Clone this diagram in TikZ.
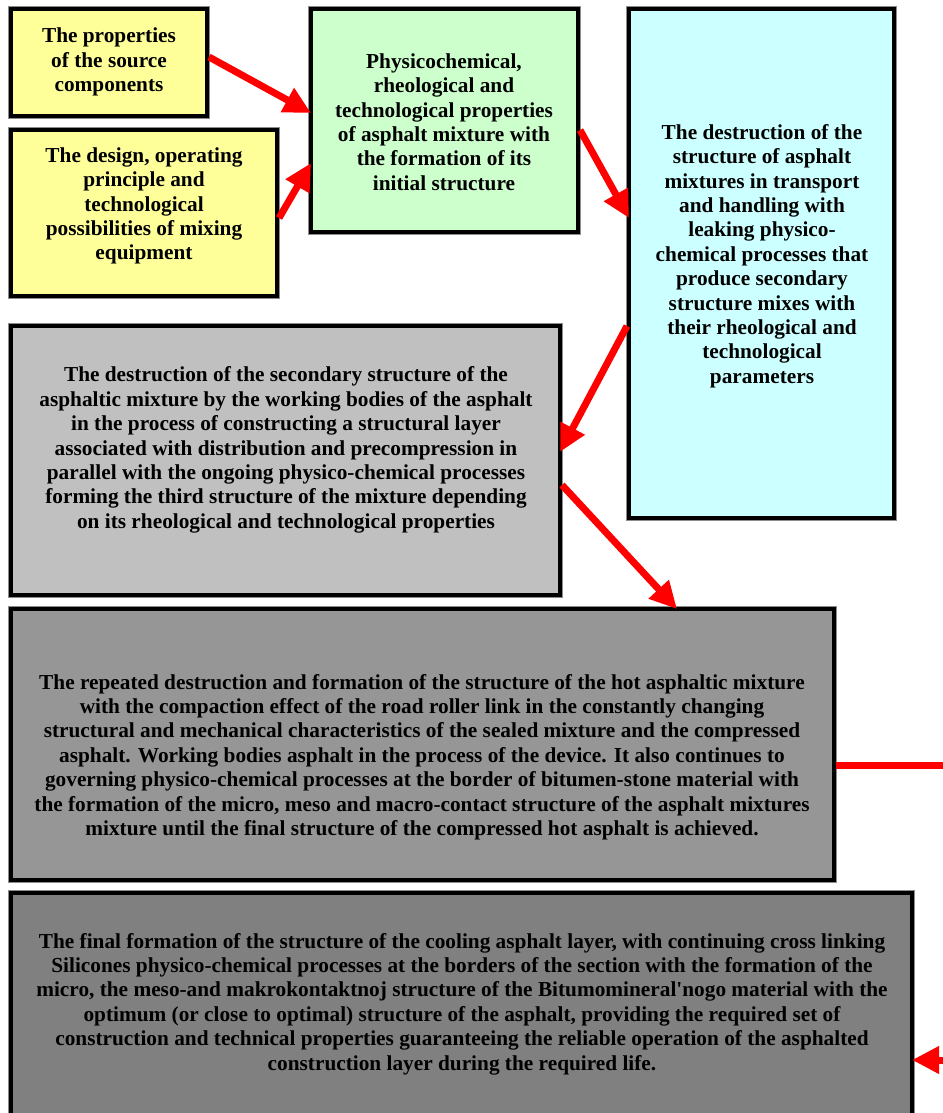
\documentclass[tikz,border=0pt]{standalone}
\usepackage{fontspec}
\setmainfont{Liberation Serif}
\newfontfamily\rawfont{Liberation Serif}
\usetikzlibrary{arrows.meta,calc}
\definecolor{cyel}{HTML}{FFFF99}
\definecolor{cgrn}{HTML}{CCFFCC}
\definecolor{ccyn}{HTML}{CCFFFF}
\definecolor{cg1}{HTML}{C0C0C0}
\definecolor{cg2}{HTML}{969696}
\definecolor{cg3}{HTML}{808080}
\begin{document}
\begin{tikzpicture}[x=1pt,y=-1pt,
  box/.style={draw=black, line width=4pt, rectangle, anchor=north west, inner sep=0pt, outer sep=0pt,
    preaction={draw=black!45, line width=6pt}},
  txt/.style={align=center, inner sep=0pt, font=\fontsize{21.3}{24.4}\selectfont\bfseries},
  arr/.style={draw=red, line width=7pt, -{Triangle[length=27pt,width=26pt]}},
  lin/.style={draw=red, line width=7pt}]
\useasboundingbox (0,0) rectangle (942,1113);
\fill[white] (0,0) rectangle (942,1113);
% boxes
\node[box, fill=cyel, minimum width=196pt, minimum height=107pt] (A) at (11,9) {};
\node[box, fill=cyel, minimum width=266pt, minimum height=166pt] (B) at (11,130) {};
\node[box, fill=cgrn, minimum width=267pt, minimum height=223pt] (C) at (311,9) {};
\node[box, fill=ccyn, minimum width=265pt, minimum height=509pt] (D) at (629,9) {};
\node[box, fill=cg1, minimum width=549pt, minimum height=269pt] (E) at (11,326) {};
\node[box, fill=cg2, minimum width=823pt, minimum height=271pt] (F) at (11,609) {};
\node[box, fill=cg3, minimum width=901pt, minimum height=240pt] (G) at (11,893) {};
% texts
\node[txt] (tA) at (109,62) {The properties\\of the source\\components};
\node[txt] (tB) at (144,206) {The design, operating\\principle and\\technological\\possibilities of mixing\\equipment};
\node[txt] (tC) at (444,122) {Physicochemical,\\rheological and\\technological properties\\of asphalt mixture with\\the formation of its\\initial structure};
\node[txt] (tD) at (762,256) {The destruction of the\\structure of asphalt\\mixtures in transport\\and handling with\\leaking physico-\\chemical processes that\\produce secondary\\structure mixes with\\their rheological and\\technological\\parameters};
\node[txt] (tE) at (286,450) {The destruction of the secondary structure of the\\asphaltic mixture by the working bodies of the asphalt\\in the process of constructing a structural layer\\associated with distribution and precompression in\\parallel with the ongoing physico-chemical processes\\forming the third structure of the mixture depending\\on its rheological and technological properties};
\node[txt] (tF) at (422,757) {The repeated destruction and formation of the structure of the hot asphaltic mixture\\with the compaction effect of the road roller link in the constantly changing\\structural and mechanical characteristics of the sealed mixture and the compressed\\asphalt. Working bodies asphalt in the process of the device. It also continues to\\governing physico-chemical processes at the border of bitumen-stone material with\\the formation of the micro, meso and macro-contact structure of the asphalt mixtures\\mixture until the final structure of the compressed hot asphalt is achieved.};
\node[txt] (tG) at (462,1004) {The final formation of the structure of the cooling asphalt layer, with continuing cross linking\\Silicones physico-chemical processes at the borders of the section with the formation of the\\micro, the meso-and makrokontaktnoj structure of the Bitumomineral{\rawfont\bfseries '}nogo material with the\\optimum (or close to optimal) structure of the asphalt, providing the required set of\\construction and technical properties guaranteeing the reliable operation of the asphalted\\construction layer during the required life.};
% connectors
\draw[arr] ($(A.north east)+(2,48)$) -- ($(C.north west)+(0,104)$);
\draw[arr] ($(B.north east)+(2,88)$) -- ($(C.north west)+(0,154)$);
\draw[arr] ($(C.north east)+(2,121)$) -- ($(D.north west)+(0,209)$);
\draw[arr] ($(D.north west)+(-2,317)$) -- ($(E.north east)+(0,126)$);
\draw[arr] ($(E.north east)+(2,159)$) -- ($(F.north west)+(666,0)$);
\coordinate (outF) at (950,765);
\coordinate (inG) at (955,1060);
\draw[lin] ($(F.north east)+(2,156)$) -- (outF);
\draw[arr] (inG) -- ($(G.north east)+(0,167)$);
\end{tikzpicture}
\end{document}
